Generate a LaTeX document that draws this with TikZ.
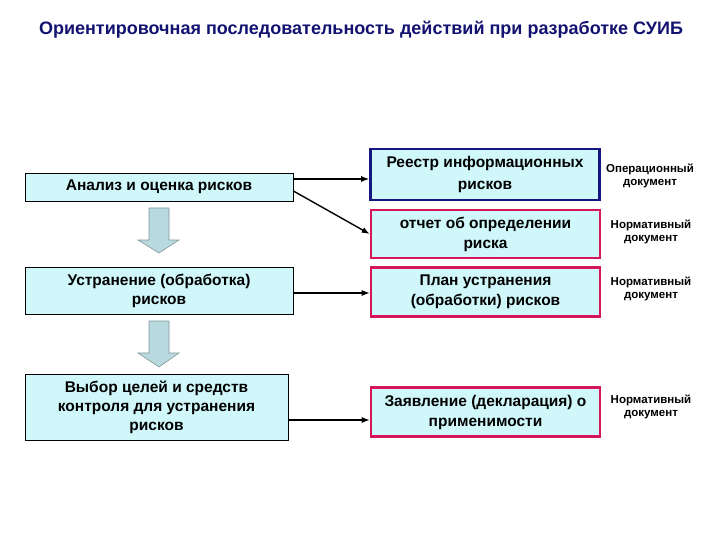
\documentclass[tikz,border=0pt]{standalone}
\usepackage{fontspec}
\setmainfont{Liberation Sans}
\usetikzlibrary{arrows.meta}

\definecolor{boxfill}{RGB}{208,248,251}
\definecolor{navyline}{RGB}{22,22,128}
\definecolor{pinkline}{RGB}{214,22,88}
\definecolor{titleblue}{RGB}{18,18,112}
\definecolor{arrowfill}{RGB}{184,218,222}
\definecolor{arrowline}{RGB}{130,150,152}

\begin{document}
\begin{tikzpicture}[x=1pt,y=-1pt,
    stage/.style={draw=black, line width=0.8pt, fill=boxfill, align=center,
      font=\fontsize{15.5}{19}\selectfont\bfseries, inner sep=0pt},
    doc/.style={fill=boxfill, line width=2.6pt, align=center,
      font=\fontsize{15.5}{20}\selectfont\bfseries, inner sep=0pt,
      minimum width=229pt, minimum height=49pt},
    kind/.style={align=center, font=\fontsize{11.5}{13}\selectfont\bfseries},
    conn/.style={-{Latex[length=8pt,width=6pt]}, line width=1.4pt},
    blockarrow/.style={fill=arrowfill, draw=arrowline, line width=0.6pt}]
      \useasboundingbox (0,0) rectangle (720,540);
      \node [font=\fontsize{18}{21}\selectfont\bfseries, text=titleblue] (title) at (361,30)
        {Ориентировочная последовательность действий при разработке СУИБ};
      \node [stage, minimum width=268pt, minimum height=28pt] (anal) at (159,187) {Анализ и оценка рисков};
      \node [stage, minimum width=268pt, minimum height=47pt] (ustr) at (159,291) {Устранение (обработка)\\рисков};
      \node [stage, minimum width=263pt, minimum height=66pt] (vybor) at (156.5,407) {Выбор целей и средств\\контроля для устранения\\рисков};
      \node [doc, draw=navyline, minimum height=51pt, font=\fontsize{15.5}{22}\selectfont\bfseries] (reestr) at (485,174.5) {Реестр информационных\\рисков};
      \node [doc, draw=pinkline, minimum height=48pt] (otchet) at (485.5,234) {отчет об определении\\риска};
      \node [doc, draw=pinkline] (plan) at (485.5,292) {План устранения\\(обработки) рисков};
      \node [doc, draw=pinkline] (zayav) at (485.5,412) {Заявление (декларация) о\\применимости};
      \node [kind] (k1) at (650,176) {Операционный\\документ};
      \node [kind] (k2) at (651,232) {Нормативный\\документ};
      \node [kind] (k3) at (651,289) {Нормативный\\документ};
      \node [kind] (k4) at (651,407) {Нормативный\\документ};
      \draw [conn] ([yshift=8pt]anal.east) -- ([yshift=8pt]anal.east -| reestr.west);
      \draw [conn] ([yshift=-4pt]anal.east) -- (otchet.west);
      \draw [conn, line width=1.1pt] ([yshift=-2pt]ustr.east) -- ([yshift=-2pt]ustr.east -| plan.west);
      \draw [conn, line width=1.1pt] ([yshift=-13pt]vybor.east) -- ([yshift=-13pt]vybor.east -| zayav.west);
      \draw [blockarrow] (149,208) -- (169,208) -- (169,240) -- (179,240) -- (159,253) -- (138,240) -- (149,240) -- cycle;
      \draw [blockarrow] (149,321) -- (169,321) -- (169,353) -- (179,353) -- (159,367) -- (138,353) -- (149,353) -- cycle;
    \end{tikzpicture}
\end{document}
